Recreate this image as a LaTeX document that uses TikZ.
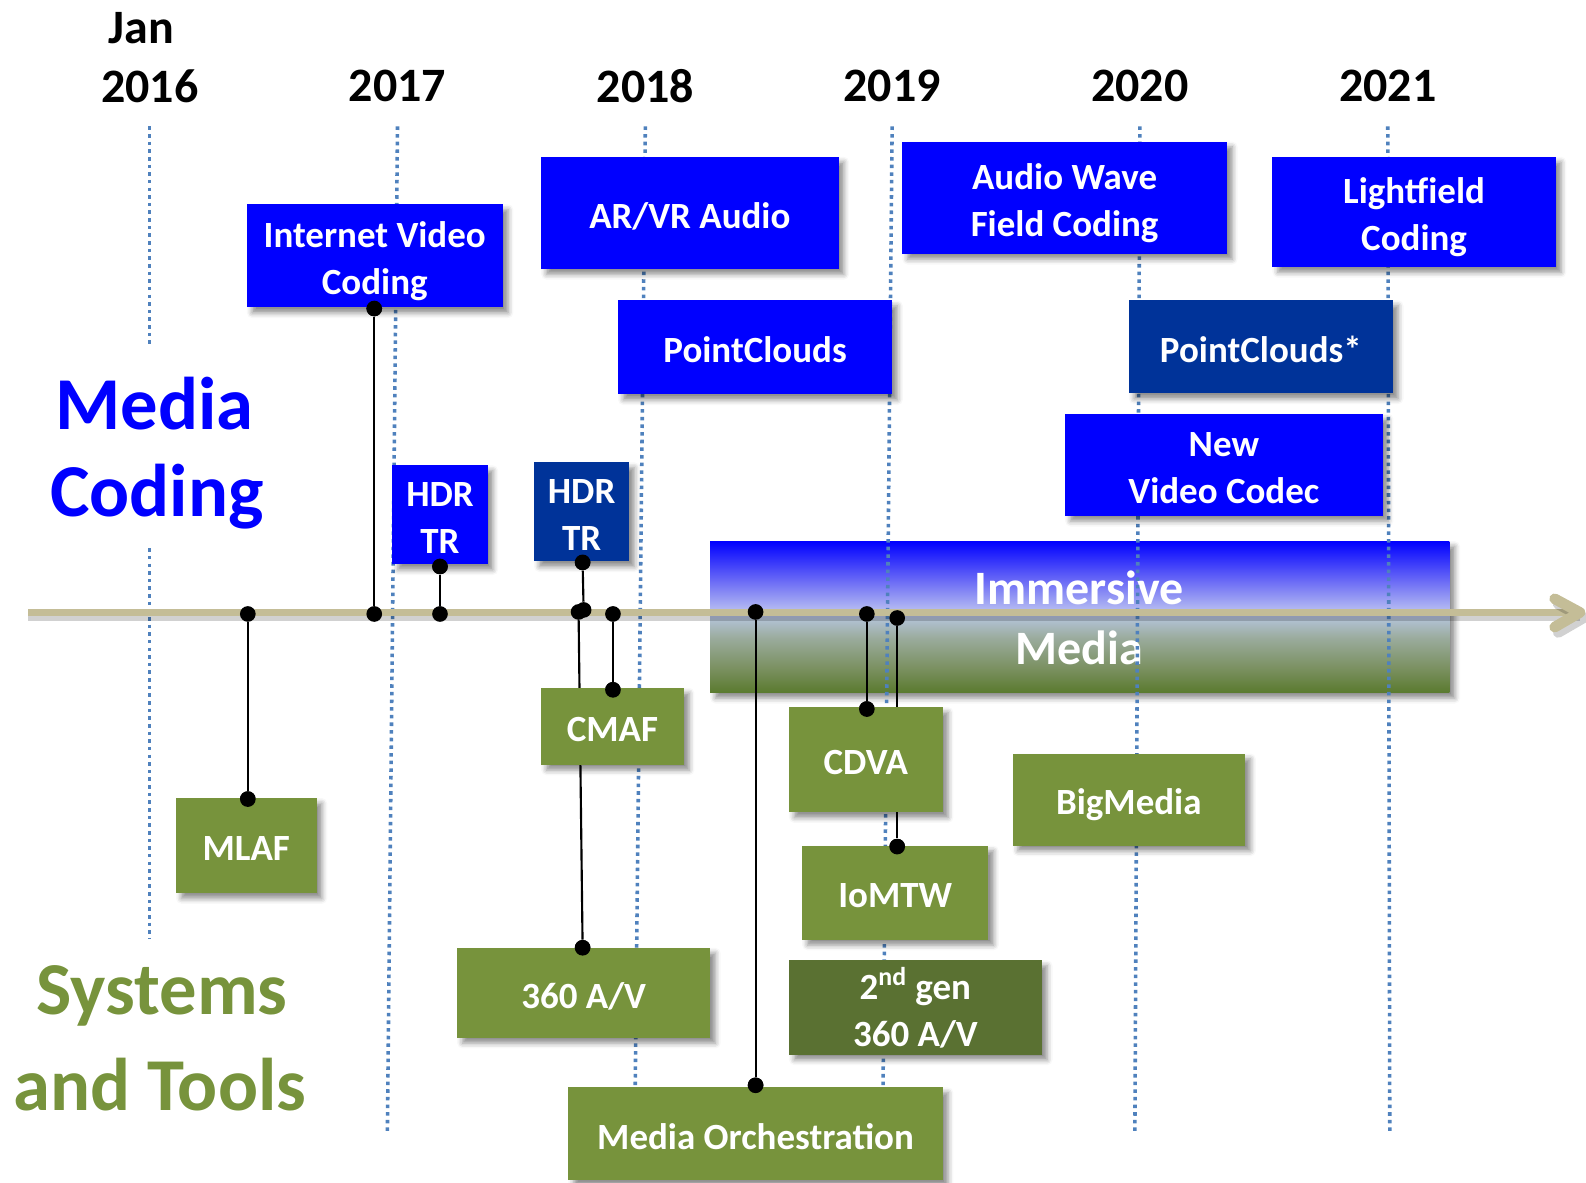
\documentclass[tikz,border=0pt]{standalone}
\usepackage{fontspec}
\setmainfont{Carlito}
\usetikzlibrary{arrows.meta,shadows.blur}

\definecolor{boxblue}{HTML}{0000FF}
\definecolor{darkblue}{HTML}{003399}
\definecolor{boxgreen}{HTML}{77933C}
\definecolor{darkgreen}{HTML}{5A7132}
\definecolor{yearline}{HTML}{4F81BD}
\definecolor{tlcolor}{HTML}{C4BD97}
\definecolor{imbot}{HTML}{5A7A2E}
\definecolor{imb}{HTML}{7A9060}
\definecolor{imc}{HTML}{9AAB9C}
\definecolor{imd}{HTML}{B0C0D0}
\definecolor{ime}{HTML}{B0B6F2}
\definecolor{imf}{HTML}{6A6AF6}
\definecolor{imtop}{HTML}{0000FF}

\pgfdeclareverticalshading{immshade}{100bp}{color(0bp)=(imbot); color(25bp)=(imbot); color(33bp)=(imb); color(43bp)=(imc); color(49bp)=(imd); color(53bp)=(ime); color(62bp)=(imf); color(75bp)=(imtop); color(100bp)=(imtop)}

\newcommand{\boxfont}{\fontsize{20.8}{26.5}\selectfont\bfseries}
\newcommand{\yearfont}{\fontsize{27}{32}\selectfont\bfseries}
\newcommand{\bigfont}{\fontsize{42}{50}\selectfont\bfseries}
\newcommand{\bt}[1]{\raisebox{-3.3pt}[\height][\depth]{\begin{tabular}{@{}c@{}}#1\end{tabular}}}

\tikzset{
  sz/.style 2 args={minimum width=#1*0.02cm, minimum height=#2*0.02cm},
  box/.style={rectangle, inner sep=0pt, text=white, font=\boxfont,
    blur shadow={shadow xshift=3pt, shadow yshift=-3pt, shadow blur radius=3pt, shadow opacity=45}},
  bluebox/.style={box, fill=boxblue},
  dbluebox/.style={box, fill=darkblue},
  greenbox/.style={box, fill=boxgreen},
  dgreenbox/.style={box, fill=darkgreen},
  yearlbl/.style={font=\yearfont, text=black, inner sep=0pt},
  yearln/.style={draw=yearline, line width=2pt, dash pattern=on 2pt off 2.3pt},
  conn/.style={draw=black, line width=1.2pt},
  dot/.style={circle, fill=black, inner sep=0pt, minimum size=0.31cm},
  tline/.style={draw=tlcolor, line width=4.2pt},
}

\begin{document}
\begin{tikzpicture}[x=0.02cm, y=-0.02cm]
\useasboundingbox (0,0) rectangle (1568,1169);

% Immersive media band
\node[rectangle, inner sep=0pt, sz={731}{150}, shading=immshade,
  blur shadow={shadow xshift=3pt, shadow yshift=-3pt, shadow blur radius=3pt, shadow opacity=45}]
  (imm) at (1067.5,610) {};
\node[text=white, font=\yearfont, align=center, inner sep=0pt] (immtxt) at (1067,611)
  {Immersive\\[2pt]Media};

% year labels
\node[yearlbl] (jan) at (140,28) {Jan};
\node[yearlbl] (y16) at (148,85) {2016};
\node[yearlbl] (y17) at (393,85) {2017};
\node[yearlbl] (y18) at (638,85) {2018};
\node[yearlbl] (y19) at (882,85) {2019};
\node[yearlbl] (y20) at (1127,85) {2020};
\node[yearlbl] (y21) at (1372,85) {2021};

% dotted year lines
\coordinate (l16a) at (148,125); \coordinate (l16b) at (148,342);
\coordinate (l16c) at (148,542); \coordinate (l16d) at (148,928);
\coordinate (l17a) at (393,125); \coordinate (l17b) at (383,1118);
\coordinate (l18a) at (638,125); \coordinate (l18b) at (628,1075);
\coordinate (l19a) at (882,125); \coordinate (l19b) at (873,1075);
\coordinate (l20a) at (1127,125); \coordinate (l20b) at (1122,1118);
\coordinate (l21a) at (1372,125); \coordinate (l21b) at (1374,1118);
\draw[yearln] (l16a) -- (l16b);
\draw[yearln] (l16c) -- (l16d);
\draw[yearln] (l17a) -- (l17b);
\draw[yearln] (l18a) -- (l18b);
\draw[yearln] (l19a) -- (l19b);
\draw[yearln] (l20a) -- (l20b);
\draw[yearln] (l21a) -- (l21b);

% timeline
\coordinate (tls) at (28,605.5);
\coordinate (tle) at (1562,605.5);
\draw[draw=black, opacity=0.18, line width=4pt] ([yshift=-3pt]tls) -- ([yshift=-3pt]tle);
\draw[tline] (tls) -- (tle);
\draw[draw=black, opacity=0.18, line width=6pt, line cap=round, line join=round]
  ([xshift=2pt,yshift=-3pt]1537,592) -- ([xshift=2pt,yshift=-3pt]tle) -- ([xshift=2pt,yshift=-3pt]1537,620);
\draw[draw=tlcolor, line width=6pt, line cap=round, line join=round]
  (1537,592) -- (tle) -- (1537,620);

% side headings
\node[font=\bigfont, text=boxblue, inner sep=0pt] (mc1) at (153,399) {Media};
\node[font=\bigfont, text=boxblue, inner sep=0pt] (mc2) at (155,491) {Coding};
\node[font=\bigfont, text=boxgreen, inner sep=0pt] (st1) at (160,985) {Systems};
\node[font=\bigfont, text=boxgreen, inner sep=0pt] (st2) at (158,1072) {and Tools};

% dots
\node[dot] (dmlaft) at (245,607) {};
\node[dot] (dmlafb) at (245,790) {};
\node[dot] (divcb) at (370,305) {};
\node[dot] (divct) at (370,607) {};
\node[dot] (dhdrab) at (435,560) {};
\node[dot] (dhdrat) at (435,607) {};
\node[dot] (dhdrbb) at (576,556) {};
\node[dot] (dhdrbt) at (577,603) {};
\node[dot] (davt) at (572,605) {};
\node[dot] (davb) at (576,937) {};
\node[dot] (dcmaft) at (606,607) {};
\node[dot] (dcmafb) at (606,682) {};
\node[dot] (dmot) at (747,605) {};
\node[dot] (dmob) at (747,1073) {};
\node[dot] (dcdvat) at (857,607) {};
\node[dot] (dcdvab) at (857,701) {};
\node[dot] (diomt) at (887,611) {};
\node[dot] (diomb) at (887,837) {};

% connectors
\draw[conn] (dmlaft) -- (dmlafb);
\draw[conn] (divcb) -- (divct);
\draw[conn] (dhdrab) -- (dhdrat);
\draw[conn] (dhdrbb) -- (dhdrbt);
\draw[conn] (davt) -- (davb);
\draw[conn] (dcmaft) -- (dcmafb);
\draw[conn] (dmot) -- (dmob);
\draw[conn] (dcdvat) -- (dcdvab);
\draw[conn] (diomt) -- (diomb);

% media coding boxes
\node[bluebox, sz={253}{102}] (ivc) at (370.5,253) {\bt{Internet Video\\Coding}};
\node[bluebox, sz={294}{111}] (arvr) at (682,210.5) {\bt{AR/VR Audio}};
\node[bluebox, sz={271}{93}] (pc1) at (746.5,343.5) {\bt{PointClouds}};
\node[bluebox, sz={321}{111}] (awfc) at (1052.5,195.5) {\bt{Audio Wave\\Field Coding}};
\node[bluebox, sz={280}{109}] (lf) at (1398,209.5) {\bt{Lightfield\\Coding}};
\node[dbluebox, sz={261}{92}] (pc2) at (1246.5,343) {\bt{PointClouds*}};
\node[bluebox, sz={314}{101}] (nvc) at (1210,459.5) {\bt{New\\Video Codec}};
\node[bluebox, sz={94}{98}] (hdra) at (435,509) {\bt{HDR\\TR}};
\node[dbluebox, sz={94}{98}] (hdrb) at (575,506) {\bt{HDR\\TR}};

% systems boxes
\node[greenbox, sz={139}{94}] (mlaf) at (243.5,836) {\bt{MLAF}};
\node[greenbox, sz={141}{76}] (cmaf) at (605.5,718) {\bt{CMAF}};
\node[greenbox, sz={250}{89}] (av360) at (577,981.5) {\bt{360 A/V}};
\node[greenbox, sz={152}{104}] (cdva) at (856,751) {\bt{CDVA}};
\node[greenbox, sz={184}{93}] (iomtw) at (885,882.5) {\bt{IoMTW}};
\node[dgreenbox, sz={250}{90}] (gen2) at (905,996) {\bt{2\textsuperscript{nd} gen\\360 A/V}};
\node[greenbox, sz={230}{91}] (bigm) at (1116,790.5) {\bt{BigMedia}};
\node[greenbox, sz={370}{92}] (mo) at (747,1121) {\bt{Media Orchestration}};

% dots on top of boxes
\foreach \d in {dmlafb,divcb,dhdrab,dhdrbb,davb,dcmafb,dmob,dcdvab,diomb}
  \fill[black] (\d) circle (0.155cm);
\end{tikzpicture}
\end{document}
